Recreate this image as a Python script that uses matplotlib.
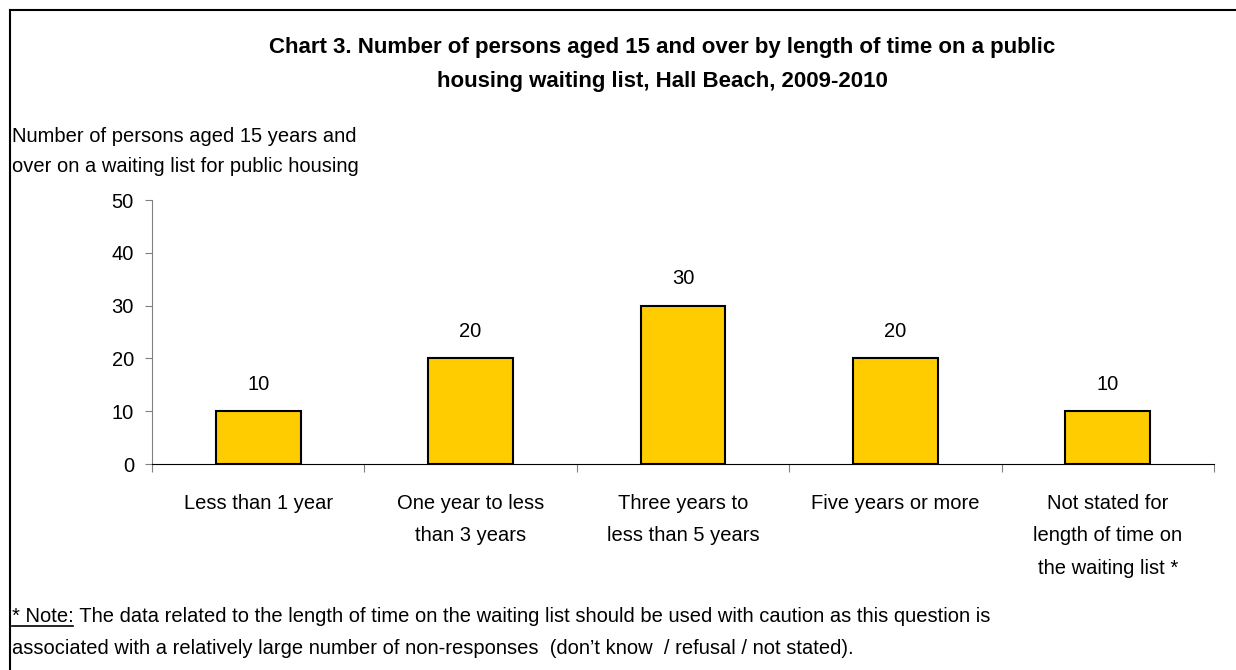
import matplotlib
matplotlib.use("Agg")
import matplotlib.pyplot as plt
from matplotlib.lines import Line2D

plt.rcParams['font.family'] = ['Liberation Sans', 'DejaVu Sans']

categories = ["Less than 1 year", "One year to less\nthan 3 years", "Three years to\nless than 5 years",
              "Five years or more", "Not stated for\nlength of time on\nthe waiting list *"]
values = [10, 20, 30, 20, 10]
yticks = [0, 10, 20, 30, 40, 50]

title = "Chart 3. Number of persons aged 15 and over by length of time on a public\nhousing waiting list, Hall Beach, 2009-2010"
ylabel = "Number of persons aged 15 years and\nover on a waiting list for public housing"
note_head = "* Note:"
note_rest = " The data related to the length of time on the waiting list should be used with caution as this question is"
note_line2 = "associated with a relatively large number of non-responses  (don\u2019t know  / refusal / not stated)."

FS = 14.5
W, H = 1236, 670
fig = plt.figure(figsize=(W / 100, H / 100), dpi=100)
ax = fig.add_axes([152 / W, 1 - 464 / H, (1214 - 152) / W, (464 - 200) / H])

x = list(range(len(values)))
ax.bar(x, values, width=0.4, color="#FFCC00", edgecolor="black", linewidth=1.5, zorder=3)
for xi, v in zip(x, values):
    ax.annotate(str(v), (xi, v), xytext=(0, 19.5), textcoords="offset points",
                ha="center", va="center", fontsize=FS)

ax.set_xlim(-0.5, len(values) - 0.5)
ax.set_ylim(0, 50)
ax.set_yticks(yticks)
ax.set_yticklabels([str(t) for t in yticks], fontsize=FS)
ax.set_xticks([i - 0.5 for i in range(len(values) + 1)])
ax.set_xticklabels([])
ax.set_xticks(x, minor=True)
ax.set_xticklabels(categories, minor=True, fontsize=FS, linespacing=1.9, va="top")
ax.tick_params(axis="x", which="minor", length=0, pad=21.5)
ax.tick_params(axis="x", which="major", length=6, direction="out", color="#808080")
ax.tick_params(axis="y", length=5, direction="out", color="#808080", pad=8)
for s in ["top", "right"]:
    ax.spines[s].set_visible(False)
ax.spines["left"].set_color("#808080")
ax.spines["bottom"].set_color("black")

fig.text(662 / W, 1 - 64.5 / H, title, ha="center", va="center", fontsize=16,
         fontweight="bold", linespacing=1.82)
fig.text(12 / W, 1 - 151.5 / H, ylabel, ha="left", va="center", fontsize=FS, linespacing=1.8)

# note
t1 = fig.text(12 / W, 1 - 617 / H, note_head, ha="left", va="center", fontsize=FS)
fig.canvas.draw()
r = fig.canvas.get_renderer()
bb = t1.get_window_extent(r)
fig.text(bb.x1 / W, 1 - 617 / H, note_rest, ha="left", va="center", fontsize=FS)
fig.add_artist(Line2D([12 / W, (bb.x1 - 1) / W], [(bb.y0 + 1) / H, (bb.y0 + 1) / H],
                      color="black", linewidth=1.2))
fig.text(12 / W, 1 - 648 / H, note_line2, ha="left", va="center", fontsize=FS)

# border
fig.add_artist(Line2D([9.5 / W, 9.5 / W], [0, 1 - 10 / H], color="black", linewidth=1.5))
fig.add_artist(Line2D([9.5 / W, 1], [1 - 10 / H, 1 - 10 / H], color="black", linewidth=1.5))

fig.savefig("out.png", dpi=100)
